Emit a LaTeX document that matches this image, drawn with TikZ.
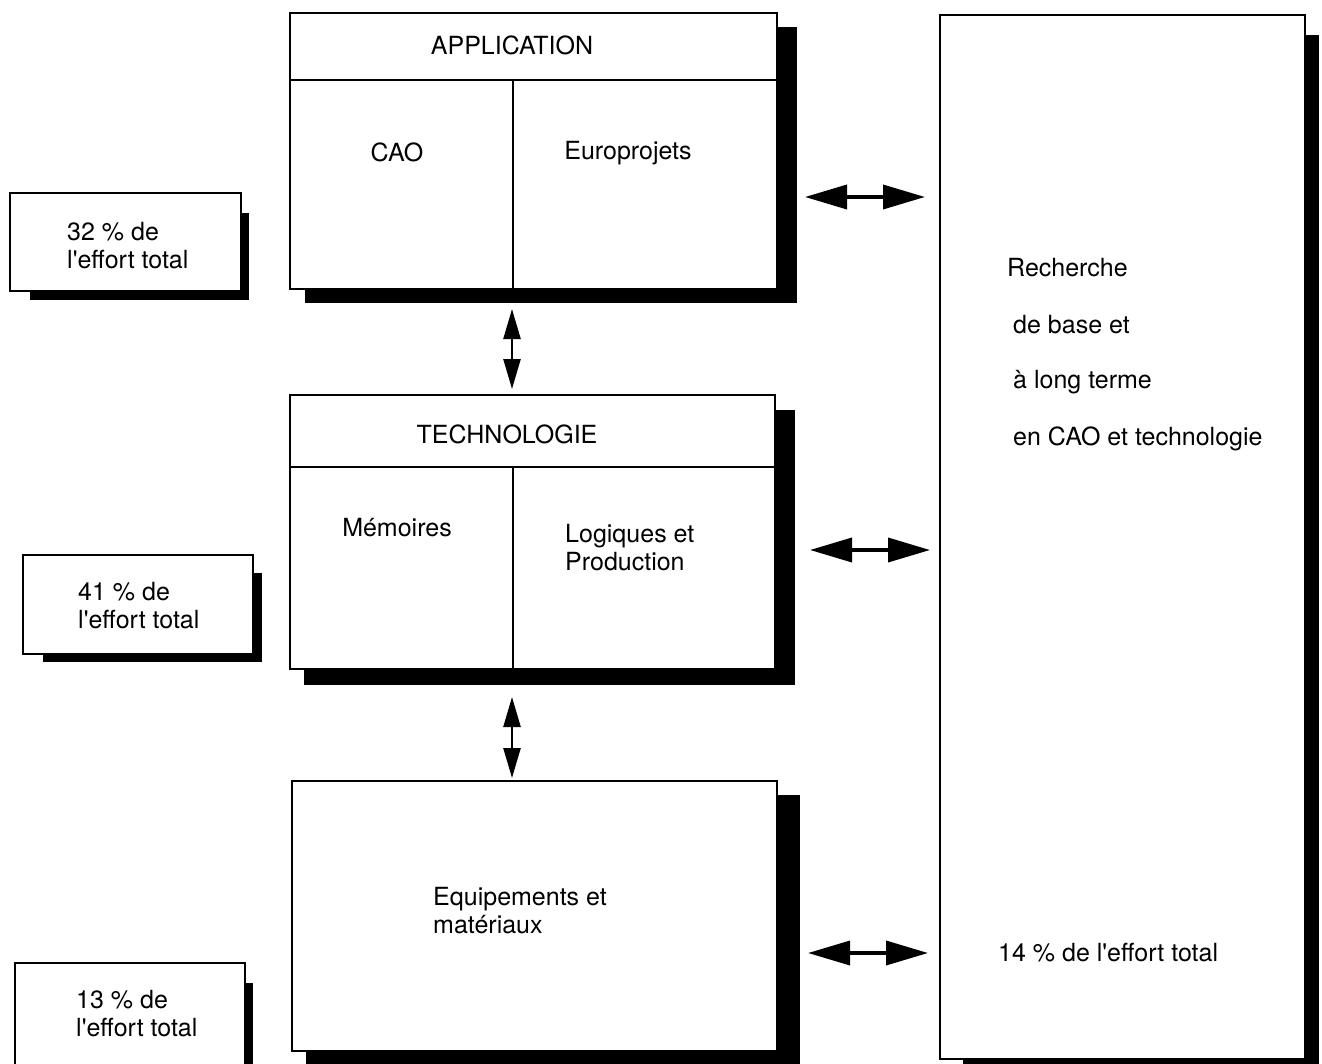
\documentclass[tikz,border=0pt]{standalone}
\usepackage{fontspec}
\setmainfont{TeX Gyre Heros}
\usetikzlibrary{arrows.meta}
\pgfdeclarelayer{background}
\pgfsetlayers{background,main}
\newcommand\apos{\textquotesingle}
\begin{document}
\begin{tikzpicture}[x=1pt,y=-1pt,
  box/.style={draw=black, fill=white, line width=2.4pt, inner sep=0pt, outer sep=0pt, anchor=north west},
  txt/.style={font=\fontsize{25}{28}\selectfont, inner sep=0pt, align=left},
  sep/.style={line width=2.6pt},
  div/.style={line width=2pt},
  harrow/.style={line width=3.6pt, {Triangle[length=42pt,width=24pt]}-{Triangle[length=42pt,width=24pt]}},
  varrow/.style={line width=2.4pt, {Triangle[length=30pt,width=17pt]}-{Triangle[length=30pt,width=17pt]}}
]
\useasboundingbox (0,0) rectangle (1322,1063);

% main boxes
\node[box, minimum width=487pt, minimum height=276pt] (app) at (290,13) {};
\node[box, minimum width=485pt, minimum height=274pt] (tech) at (290,395) {};
\node[box, minimum width=485pt, minimum height=270pt] (equip) at (292,781) {};
\node[box, minimum width=365pt, minimum height=1044pt] (research) at (940,15) {};
% small boxes
\node[box, minimum width=231pt, minimum height=98pt] (b32) at (10,193) {};
\node[box, minimum width=230pt, minimum height=99pt] (b41) at (23,555) {};
\node[box, minimum width=230pt, minimum height=110pt] (b13) at (15,963) {};

% shadows
\begin{pgfonlayer}{background}
\fill[white] (0,0) rectangle (1322,1063);
\fill ([shift={(15,14)}]app.north west) rectangle ([shift={(20,14)}]app.south east);
\fill ([shift={(14,15)}]tech.north west) rectangle ([shift={(20,16)}]tech.south east);
\fill ([shift={(14,14)}]equip.north west) rectangle ([shift={(23,14)}]equip.south east);
\fill ([shift={(23,20)}]research.north west) rectangle ([shift={(14,20)}]research.south east);
\fill ([shift={(20,20)}]b32.north west) rectangle ([shift={(8,9)}]b32.south east);
\fill ([shift={(20,18)}]b41.north west) rectangle ([shift={(9,8)}]b41.south east);
\fill ([shift={(20,20)}]b13.north west) rectangle ([shift={(8,9)}]b13.south east);
\end{pgfonlayer}

% header lines and dividers
\coordinate (appH) at (290,80);
\coordinate (techH) at (290,467);
\draw[sep] (appH) -- (appH -| app.east);
\draw[sep] (techH) -- (techH -| tech.east);
\coordinate (appD) at (513,80);
\coordinate (techD) at (513,467);
\draw[div] (appD) -- (appD |- app.south);
\draw[div] (techD) -- (techD |- tech.south);

% texts
\node[txt] (tApp) at (512,45) {APPLICATION};
\node[txt] (tCAO) at (397,152) {CAO};
\node[txt] (tEuro) at (628,153) {Europrojets};
\node[txt] (tTech) at (507,434) {TECHNOLOGIE};
\node[txt] (tMem) at (397,528) {Mémoires};
\node[txt, anchor=west] (tLog) at (565,548) {Logiques et\\Production};
\node[txt, anchor=west] (tEq) at (433,911) {Equipements et\\matériaux};
\node[txt, anchor=west] (tR1) at (1007,268) {Recherche};
\node[txt, anchor=west] (tR2) at (1013,325) {de base et};
\node[txt, anchor=west] (tR3) at (1013,382) {à long terme};
\node[txt, anchor=west] (tR4) at (1013,439) {en CAO et technologie};
\node[txt, anchor=west] (tR5) at (998,953) {14 \% de l\apos effort total};
\node[txt, anchor=west] (t32) at (67,246) {32 \% de\\l\apos effort total};
\node[txt, anchor=west] (t41) at (78,606) {41 \% de\\l\apos effort total};
\node[txt, anchor=west] (t13) at (76,1014) {13 \% de\\l\apos effort total};

% arrows
\coordinate (h1a) at (805,197); \coordinate (h1b) at (925,197);
\coordinate (h2a) at (810,550); \coordinate (h2b) at (930,550);
\coordinate (h3a) at (808,953); \coordinate (h3b) at (928,953);
\coordinate (v1a) at (512,309); \coordinate (v1b) at (512,389);
\coordinate (v2a) at (512,697); \coordinate (v2b) at (512,778);
\draw[harrow] (h1a) -- (h1b);
\draw[harrow] (h2a) -- (h2b);
\draw[harrow] (h3a) -- (h3b);
\draw[varrow] (v1a) -- (v1b);
\draw[varrow] (v2a) -- (v2b);
\end{tikzpicture}
\end{document}
